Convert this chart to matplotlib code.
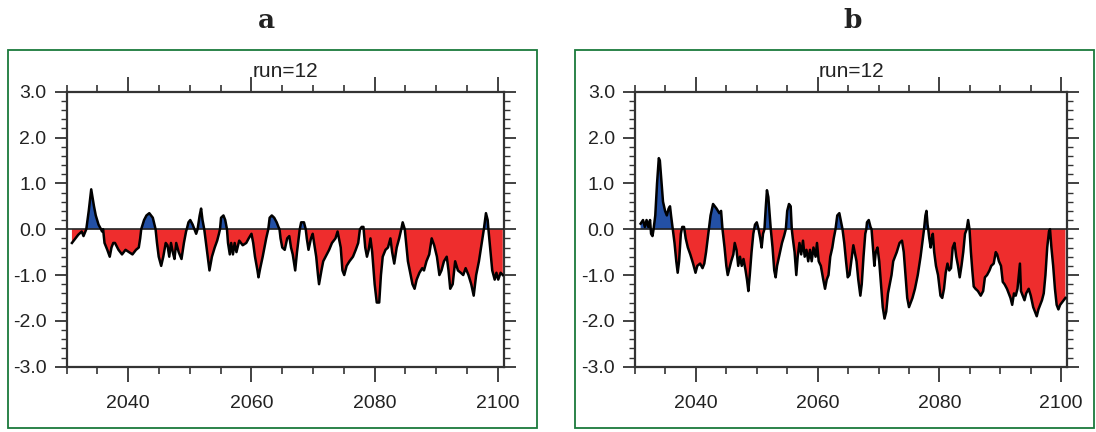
import matplotlib
matplotlib.use("Agg")
import matplotlib.pyplot as plt
from matplotlib.patches import Rectangle
from matplotlib.ticker import MultipleLocator, FixedLocator, FuncFormatter
from matplotlib import font_manager
import numpy as np

# ---------------- data ----------------
panel_labels = ["a", "b"]
run_title = "run=12"
x_major_ticks = [2040, 2060, 2080, 2100]
y_major_ticks = [-3, -2, -1, 0, 1, 2, 3]

years_a = [2030.85, 2031.88, 2032.44, 2032.73, 2033.18, 2033.58, 2033.98, 2034.43, 2034.72, 2035.17,
           2035.57, 2035.74, 2035.91, 2036.14, 2036.59, 2036.99, 2037.27, 2037.56, 2037.84, 2038.41,
           2038.98, 2039.55, 2040.11, 2040.68, 2041.25, 2041.70, 2041.93, 2042.10, 2042.56, 2042.95,
           2043.41, 2043.98, 2044.26, 2044.43, 2044.66, 2044.94, 2045.34, 2045.68, 2046.08, 2046.36,
           2046.65, 2046.93, 2047.22, 2047.50, 2047.78, 2048.18, 2048.64, 2049.03, 2049.38, 2049.49,
           2049.77, 2050.06, 2050.45, 2050.74, 2051.02, 2051.25, 2051.59, 2051.82, 2052.05, 2052.33,
           2052.61, 2052.90, 2053.18, 2053.58, 2054.03, 2054.43, 2054.72, 2054.89, 2055.06, 2055.45,
           2055.74, 2056.02, 2056.19, 2056.48, 2056.70, 2056.99, 2057.27, 2057.56, 2058.01, 2058.58,
           2059.15, 2059.55, 2060.00, 2060.28, 2060.57, 2060.97, 2061.14, 2061.42, 2061.82, 2062.39,
           2062.73, 2062.95, 2063.30, 2063.69, 2064.09, 2064.38, 2064.55, 2064.72, 2065.00, 2065.40,
           2065.80, 2066.14, 2066.42, 2066.70, 2067.10, 2067.39, 2067.67, 2067.84, 2068.07, 2068.52,
           2068.81, 2068.98, 2069.26, 2069.66, 2069.94, 2070.51, 2070.80, 2070.97, 2071.36, 2071.65,
           2072.22, 2072.61, 2073.07, 2073.64, 2073.98, 2074.49, 2074.77, 2075.06, 2075.45, 2075.91,
           2076.48, 2076.93, 2077.33, 2077.61, 2077.90, 2078.18, 2078.47, 2078.75, 2079.03, 2079.32,
           2079.60, 2080.00, 2080.34, 2080.74, 2081.02, 2081.31, 2081.76, 2082.16, 2082.56, 2082.84,
           2083.18, 2083.58, 2083.98, 2084.32, 2084.55, 2084.89, 2085.11, 2085.40, 2085.85, 2086.14,
           2086.48, 2086.82, 2087.27, 2087.73, 2088.01, 2088.41, 2088.86, 2089.26, 2089.66, 2090.11,
           2090.51, 2090.85, 2091.25, 2091.70, 2091.99, 2092.27, 2092.67, 2093.07, 2093.52, 2093.98,
           2094.38, 2094.77, 2095.23, 2095.68, 2096.08, 2096.48, 2096.93, 2097.39, 2097.73, 2098.07,
           2098.35, 2098.47, 2098.81, 2099.09, 2099.49, 2099.77, 2100.06, 2100.45, 2100.80]
values_a = [-0.30, -0.12, -0.05, -0.15, 0.00, 0.40, 0.87, 0.50, 0.30, 0.10,
            0.00, -0.05, 0.00, -0.30, -0.45, -0.60, -0.40, -0.30, -0.30, -0.45,
            -0.55, -0.45, -0.50, -0.55, -0.45, -0.40, -0.20, 0.00, 0.20, 0.30,
            0.35, 0.25, 0.10, 0.00, -0.30, -0.60, -0.80, -0.60, -0.30, -0.35,
            -0.60, -0.30, -0.50, -0.65, -0.30, -0.50, -0.65, -0.30, -0.05, 0.00,
            0.15, 0.20, 0.10, 0.00, -0.10, 0.00, 0.30, 0.45, 0.20, 0.00,
            -0.30, -0.60, -0.90, -0.60, -0.40, -0.25, -0.10, 0.00, 0.25, 0.30,
            0.20, 0.00, -0.30, -0.55, -0.30, -0.55, -0.30, -0.50, -0.25, -0.35,
            -0.30, -0.20, -0.10, -0.30, -0.60, -0.90, -1.05, -0.85, -0.60, -0.20,
            0.00, 0.25, 0.30, 0.25, 0.15, 0.05, 0.00, -0.20, -0.40, -0.45,
            -0.20, -0.15, -0.40, -0.55, -0.90, -0.50, -0.20, 0.00, 0.15, 0.15,
            0.00, -0.20, -0.45, -0.20, -0.10, -0.60, -1.00, -1.20, -0.90, -0.70,
            -0.55, -0.45, -0.30, -0.20, -0.05, -0.40, -0.90, -1.00, -0.80, -0.70,
            -0.60, -0.45, -0.30, 0.00, 0.05, 0.05, -0.40, -0.60, -0.45, -0.20,
            -0.50, -1.20, -1.60, -1.60, -1.00, -0.60, -0.45, -0.40, -0.20, -0.50,
            -0.75, -0.40, -0.20, 0.00, 0.15, 0.00, -0.30, -0.70, -1.00, -1.20,
            -1.30, -1.10, -0.95, -0.85, -0.90, -0.70, -0.55, -0.20, -0.35, -0.60,
            -1.00, -0.90, -0.70, -0.60, -0.90, -1.30, -1.20, -0.70, -0.90, -0.95,
            -1.00, -0.85, -1.00, -1.20, -1.45, -1.00, -0.70, -0.30, 0.00, 0.35,
            0.20, 0.00, -0.50, -0.90, -1.10, -0.95, -1.10, -0.95, -1.00]

years_b = [2030.92, 2031.32, 2031.61, 2031.90, 2032.18, 2032.47, 2032.64, 2032.87, 2033.05, 2033.33,
           2033.62, 2033.91, 2034.08, 2034.31, 2034.60, 2034.94, 2035.23, 2035.52, 2035.75, 2035.92,
           2036.21, 2036.49, 2036.78, 2037.01, 2037.24, 2037.53, 2037.76, 2038.05, 2038.33, 2038.68,
           2039.08, 2039.54, 2039.94, 2040.23, 2040.69, 2041.09, 2041.38, 2041.67, 2041.95, 2042.13,
           2042.41, 2042.82, 2043.39, 2043.85, 2044.14, 2044.37, 2044.71, 2045.00, 2045.23, 2045.52,
           2045.80, 2046.15, 2046.38, 2046.67, 2046.95, 2047.24, 2047.53, 2047.82, 2048.16, 2048.39,
           2048.62, 2048.85, 2049.14, 2049.43, 2049.71, 2050.00, 2050.29, 2050.57, 2050.80, 2051.03,
           2051.26, 2051.49, 2051.67, 2051.90, 2052.13, 2052.30, 2052.59, 2052.87, 2053.10, 2053.33,
           2053.74, 2054.14, 2054.48, 2054.77, 2055.00, 2055.29, 2055.57, 2055.75, 2055.92, 2056.21,
           2056.49, 2056.72, 2057.01, 2057.30, 2057.59, 2057.87, 2058.16, 2058.45, 2058.74, 2059.02,
           2059.31, 2059.66, 2059.89, 2060.17, 2060.52, 2060.92, 2061.21, 2061.49, 2061.78, 2062.07,
           2062.41, 2062.64, 2062.93, 2063.22, 2063.56, 2063.79, 2064.08, 2064.37, 2064.66, 2064.94,
           2065.23, 2065.52, 2065.86, 2066.09, 2066.38, 2066.67, 2067.01, 2067.24, 2067.53, 2067.82,
           2067.99, 2068.10, 2068.39, 2068.68, 2068.85, 2069.08, 2069.31, 2069.54, 2069.83, 2070.11,
           2070.40, 2070.69, 2070.98, 2071.26, 2071.55, 2071.84, 2072.13, 2072.41, 2072.70, 2072.99,
           2073.45, 2073.85, 2074.14, 2074.43, 2074.71, 2075.00, 2075.29, 2075.57, 2075.98, 2076.44,
           2076.90, 2077.18, 2077.47, 2077.70, 2077.87, 2078.05, 2078.16, 2078.33, 2078.56, 2078.74,
           2078.91, 2079.14, 2079.43, 2079.77, 2080.17, 2080.46, 2080.75, 2081.03, 2081.32, 2081.61,
           2081.90, 2082.18, 2082.47, 2082.76, 2083.05, 2083.33, 2083.62, 2083.91, 2084.20, 2084.48,
           2084.71, 2084.94, 2085.17, 2085.40, 2085.63, 2085.92, 2086.32, 2086.78, 2087.18, 2087.47,
           2087.82, 2088.22, 2088.51, 2088.91, 2089.25, 2089.48, 2089.77, 2090.11, 2090.40, 2090.69,
           2091.09, 2091.38, 2091.67, 2091.95, 2092.24, 2092.53, 2092.82, 2093.10, 2093.22, 2093.39,
           2093.68, 2093.97, 2094.25, 2094.66, 2095.00, 2095.40, 2095.69, 2095.98, 2096.26, 2096.55,
           2096.84, 2097.13, 2097.41, 2097.70, 2097.99, 2098.16, 2098.39, 2098.68, 2098.97, 2099.25,
           2099.54, 2099.83, 2100.11, 2100.40, 2100.69]
values_b = [0.12, 0.20, 0.05, 0.20, 0.05, 0.20, -0.10, -0.15, 0.00, 0.30,
            1.00, 1.55, 1.50, 1.10, 0.60, 0.40, 0.30, 0.45, 0.50, 0.30,
            0.00, -0.30, -0.70, -0.95, -0.70, -0.10, 0.05, 0.05, -0.20, -0.40,
            -0.55, -0.75, -0.95, -0.80, -0.75, -0.85, -0.75, -0.50, -0.20, 0.00,
            0.30, 0.55, 0.45, 0.35, 0.40, 0.00, -0.40, -0.80, -1.00, -0.85,
            -0.70, -0.55, -0.30, -0.45, -0.80, -0.60, -0.80, -0.65, -0.90, -1.10,
            -1.35, -1.00, -0.50, -0.10, 0.10, 0.15, 0.00, -0.20, -0.40, -0.10,
            0.00, 0.50, 0.85, 0.70, 0.30, 0.00, -0.40, -0.90, -1.05, -0.80,
            -0.55, -0.30, -0.15, 0.00, 0.40, 0.55, 0.50, 0.00, -0.20, -0.50,
            -1.00, -0.60, -0.30, -0.55, -0.25, -0.60, -0.45, -0.70, -0.45, -0.70,
            -0.40, -0.60, -0.30, -0.70, -0.80, -1.10, -1.30, -1.10, -1.00, -0.60,
            -0.40, -0.20, 0.00, 0.30, 0.35, 0.20, 0.00, -0.30, -0.70, -1.05,
            -1.00, -0.70, -0.35, -0.50, -0.70, -1.10, -1.45, -1.20, -0.60, -0.10,
            0.00, 0.15, 0.20, 0.05, 0.00, -0.40, -0.80, -0.50, -0.40, -0.70,
            -1.20, -1.70, -1.95, -1.80, -1.40, -1.20, -1.00, -0.70, -0.60, -0.50,
            -0.30, -0.25, -0.50, -1.00, -1.50, -1.70, -1.60, -1.50, -1.30, -1.00,
            -0.60, -0.30, 0.00, 0.30, 0.40, 0.10, 0.00, -0.20, -0.40, -0.20,
            -0.10, -0.50, -0.80, -1.00, -1.45, -1.50, -1.30, -0.95, -0.75, -0.90,
            -0.85, -0.40, -0.30, -0.60, -0.80, -1.05, -0.80, -0.50, -0.10, 0.00,
            0.20, 0.00, -0.50, -0.90, -1.25, -1.30, -1.35, -1.45, -1.35, -1.05,
            -1.00, -0.90, -0.80, -0.75, -0.50, -0.55, -0.70, -0.80, -1.15, -1.20,
            -1.30, -1.40, -1.50, -1.65, -1.40, -1.45, -1.30, -0.90, -0.75, -1.35,
            -1.45, -1.55, -1.40, -1.30, -1.45, -1.70, -1.80, -1.90, -1.75, -1.65,
            -1.55, -1.40, -1.00, -0.40, -0.05, 0.00, -0.40, -0.80, -1.30, -1.65,
            -1.75, -1.65, -1.60, -1.55, -1.50]

assert len(years_a) == len(values_a), (len(years_a), len(values_a))
assert len(years_b) == len(values_b), (len(years_b), len(values_b))

# ---------------- style ----------------
names = {f.name for f in font_manager.fontManager.ttflist}
sans = "Liberation Sans Narrow" if "Liberation Sans Narrow" in names else "Liberation Sans"
plt.rcParams["font.family"] = [sans, "DejaVu Sans"]

BLUE = "#2350a5"
RED = "#ee2d2d"
AX_COL = "#333333"
GREEN = "#1a7a3c"

W, H = 1096, 432
fig = plt.figure(figsize=(W / 100, H / 100), dpi=100)

def fx(px):
    return px / W

def fy(py):
    return 1 - py / H

panels = [
    dict(years=years_a, values=values_a, ax_px=(66.7, 91.7, 504.0, 366.7),
         box_px=(8, 50, 537, 428), label_x=266),
    dict(years=years_b, values=values_b, ax_px=(635.0, 91.7, 1067.3, 366.7),
         box_px=(575, 50, 1094, 428), label_x=853),
]

for lab, p in zip(panel_labels, panels):
    l, t, r, b = p["ax_px"]
    ax = fig.add_axes([fx(l), fy(b), (r - l) / W, (b - t) / H])
    x = np.array(p["years"])
    y = np.array(p["values"])
    ax.fill_between(x, 0, y, where=y >= 0, interpolate=True, color=BLUE, lw=0)
    ax.fill_between(x, 0, y, where=y <= 0, interpolate=True, color=RED, lw=0)
    ax.axhline(0, color="#222222", lw=1.2, zorder=3)
    ax.plot(x, y, color="black", lw=1.8, zorder=4)

    ax.set_xlim(2030, 2101)
    ax.set_ylim(-3, 3)
    ax.xaxis.set_major_locator(FixedLocator(x_major_ticks))
    ax.xaxis.set_minor_locator(MultipleLocator(5))
    ax.yaxis.set_major_locator(FixedLocator(y_major_ticks))
    ax.yaxis.set_minor_locator(MultipleLocator(0.2))
    ax.yaxis.set_major_formatter(FuncFormatter(lambda v, pos: f"{v:.1f}"))
    ax.xaxis.set_major_formatter(FuncFormatter(lambda v, pos: f"{int(v)}"))

    for s in ax.spines.values():
        s.set_color(AX_COL)
        s.set_linewidth(1.6)
    ax.tick_params(which="both", direction="out", top=True, right=True,
                   colors=AX_COL, labelcolor="#222222")
    ax.tick_params(axis="x", which="major", length=10.5, width=1.3, labelsize=14, pad=10)
    ax.tick_params(axis="x", which="minor", length=5, width=1.2)
    ax.tick_params(axis="y", which="major", length=8.5, width=1.3, labelsize=14, pad=6)
    ax.tick_params(axis="y", which="minor", length=4, width=1.0)

    ax.text(0.5, 1.0535, run_title, transform=ax.transAxes, ha="center", va="baseline",
            fontsize=15, color="#222222")

    bl, bt, br, bb = p["box_px"]
    fig.add_artist(Rectangle((fx(bl), fy(bb)), (br - bl) / W, (bb - bt) / H,
                             transform=fig.transFigure, fill=False, edgecolor=GREEN, lw=1.3))
    fig.text(fx(p["label_x"]), fy(20), lab, ha="center", va="center",
             fontsize=19, fontweight="bold", family="DejaVu Serif", color="#222222")

fig.savefig("out.png", dpi=100)
